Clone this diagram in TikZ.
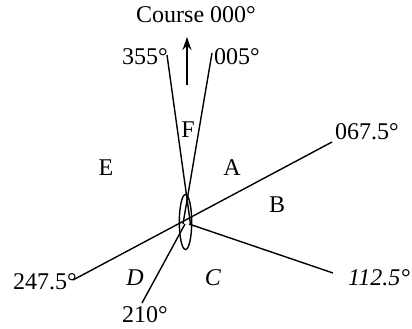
\documentclass[tikz,border=0pt]{standalone}
\usepackage{fontspec}
\setmainfont{Liberation Serif}
\usetikzlibrary{arrows.meta}
\begin{document}
\begin{tikzpicture}[x=1pt,y=-1pt,
  lbl/.style={inner sep=0pt,font=\fontsize{24}{28}\selectfont},
  ilbl/.style={lbl,font=\fontsize{24}{28}\selectfont\itshape},
  ln/.style={line width=1.4pt}]
\useasboundingbox (0,0) rectangle (412,329);
% centre and line end points
\coordinate (O) at (185.5,222);
\coordinate (n355) at (167,55);
\coordinate (n005) at (212,53);
\coordinate (e355) at (190.5,224);
\coordinate (e005) at (183,224);
\coordinate (p0675) at (332,142);
\coordinate (p2475) at (73,280);
\coordinate (p1125) at (333,273);
\coordinate (s1125) at (189,224);
\coordinate (p210) at (142,303);
\coordinate (s210) at (185,224);
\coordinate (atail) at (187,85);
\coordinate (atip) at (187,37);
% lines
\draw[ln] (n355) -- (e355);
\draw[ln] (n005) -- (e005);
\draw[ln] (p2475) -- (p0675);
\draw[ln] (s1125) -- (p1125);
\draw[ln] (s210) -- (p210);
\draw[ln,-{Stealth[length=13pt,width=9pt]}] (atail) -- (atip);
\draw[ln] (O) ellipse [x radius=6.2, y radius=27.5];
% labels
\node[lbl] (course) at (196,15) {Course 000°};
\node[lbl,anchor=east] (l355) at (168,57) {355°};
\node[lbl,anchor=west] (l005) at (214,57) {005°};
\node[lbl] (F) at (188,130) {F};
\node[lbl] (E) at (106,168) {E};
\node[lbl] (A) at (232,168) {A};
\node[lbl] (B) at (277,205) {B};
\node[ilbl] (D) at (135,278) {D};
\node[ilbl] (C) at (213,278) {C};
\node[lbl] (l2475) at (45,282) {247.5°};
\node[lbl] (l210) at (145,315) {210°};
\node[lbl] (l0675) at (367,132) {067.5°};
\node[ilbl] (l1125) at (379,278) {112.5°};
\end{tikzpicture}
\end{document}
